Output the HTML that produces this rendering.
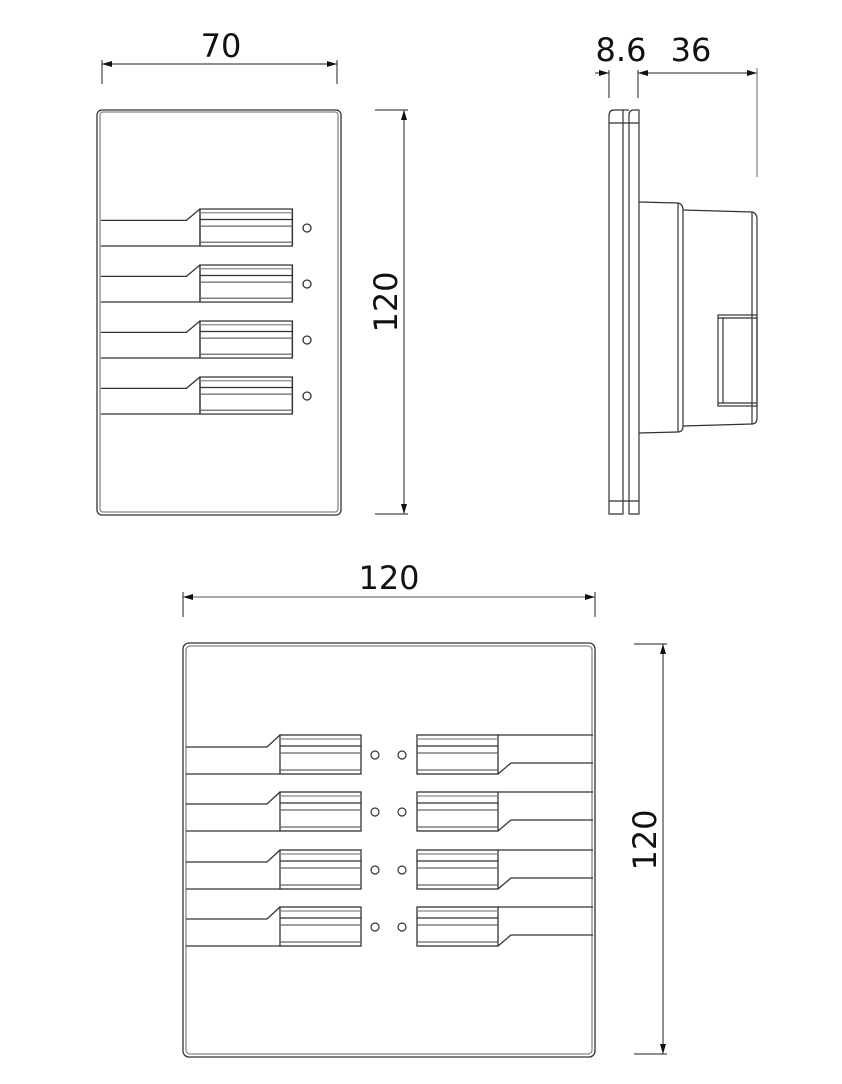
<!DOCTYPE html>
<html><head><meta charset="utf-8"><style>
html,body{margin:0;padding:0;background:#fff;}
svg{display:block;}
text{font-family:"DejaVu Sans","Liberation Sans",sans-serif;font-size:32px;fill:#111;}
</style></head><body>
<svg width="842" height="1084" viewBox="0 0 842 1084" xmlns="http://www.w3.org/2000/svg">
<defs>
<marker id="a" viewBox="0 0 10 6" refX="10" refY="3" markerWidth="10" markerHeight="6" orient="auto-start-reverse" markerUnits="userSpaceOnUse"><path d="M0,0 L10,3 L0,6 z" fill="#111"/></marker>
<g id="btn" fill="none" stroke="#333" stroke-width="1.3">
<rect x="0" y="0" width="81" height="39"/>
<line x1="0" y1="4" x2="81" y2="4" stroke="#888"/>
<line x1="0" y1="11" x2="81" y2="11"/>
<line x1="0" y1="18" x2="81" y2="18" stroke="#666"/>
<line x1="0" y1="35" x2="81" y2="35" stroke="#666"/>
</g>
<g id="rowL" fill="none" stroke="#333" stroke-width="1.3">
<polyline points="-94,12 -13,12 0,0"/>
<line x1="-94" y1="39" x2="0" y2="39"/>
<use href="#btn"/>
</g>
<g id="rowR" fill="none" stroke="#333" stroke-width="1.3">
<line x1="81" y1="0" x2="176" y2="0"/>
<polyline points="81,39 94,28 176,28"/>
<use href="#btn"/>
</g>
</defs>

<g fill="none" stroke="#333" stroke-width="1.3">
<rect x="97" y="110" width="244" height="405" rx="5"/>
<rect x="100" y="112" width="238" height="400" rx="3" stroke="#888"/>
</g>
<g fill="none" stroke="#333" stroke-width="1.3">
<g transform="translate(200,209) scale(1.14,0.95)"><polyline points="-87,12 -12,12 0,0"/><line x1="-87" y1="39" x2="0" y2="39"/><use href="#btn"/></g>
<g transform="translate(200,265) scale(1.14,0.95)"><polyline points="-87,12 -12,12 0,0"/><line x1="-87" y1="39" x2="0" y2="39"/><use href="#btn"/></g>
<g transform="translate(200,321) scale(1.14,0.95)"><polyline points="-87,12 -12,12 0,0"/><line x1="-87" y1="39" x2="0" y2="39"/><use href="#btn"/></g>
<g transform="translate(200,377) scale(1.14,0.95)"><polyline points="-87,12 -12,12 0,0"/><line x1="-87" y1="39" x2="0" y2="39"/><use href="#btn"/></g>
<circle cx="307" cy="228" r="4"/><circle cx="307" cy="284" r="4"/><circle cx="307" cy="340" r="4"/><circle cx="307" cy="396" r="4"/>
</g>
<g stroke="#222" stroke-width="1" fill="none">
<line x1="102" y1="60" x2="102" y2="84"/><line x1="337" y1="60" x2="337" y2="84"/>
<line x1="102" y1="64" x2="337" y2="64" marker-start="url(#a)" marker-end="url(#a)"/>
<line x1="375" y1="110" x2="408" y2="110"/><line x1="375" y1="514" x2="408" y2="514"/>
<line x1="404" y1="110" x2="404" y2="514" marker-start="url(#a)" marker-end="url(#a)"/>
</g>
<text x="221" y="57" text-anchor="middle">70</text>
<text transform="translate(397,302) rotate(-90)" text-anchor="middle">120</text>

<g fill="none" stroke="#333" stroke-width="1.2">
<path d="M609,514 L609,116 Q609,110 614,110 L623,110 L623,514 Z"/>
<path d="M629,514 L629,115 Q629,110 634,110 L639,110 L639,514 Z"/>
<line x1="623" y1="110" x2="629" y2="110"/>
<line x1="609" y1="123" x2="639" y2="123"/>
<line x1="609" y1="501" x2="639" y2="501"/>
<path d="M639,202 L678,203 Q683,204 683,210 L683,426 Q683,432 678,432 L639,433"/>
<line x1="678" y1="203" x2="678" y2="432"/>
<path d="M683,210 L752,212 Q757,213 757,219 L757,418 Q757,424 752,424 L683,426"/>
<line x1="752" y1="212" x2="752" y2="424"/>
<rect x="718" y="315" width="39" height="91"/>
<line x1="723" y1="318" x2="723" y2="403"/>
<line x1="718" y1="318" x2="757" y2="318"/><line x1="718" y1="403" x2="757" y2="403"/>
</g>
<g stroke="#222" stroke-width="1" fill="none">
<line x1="609" y1="70" x2="609" y2="98"/><line x1="638" y1="70" x2="638" y2="98"/>
<line x1="595" y1="73" x2="609" y2="73" marker-end="url(#a)"/>
<line x1="638" y1="73" x2="757" y2="73" marker-start="url(#a)" marker-end="url(#a)"/>
<line x1="757" y1="68" x2="757" y2="177" stroke="#666"/>
</g>
<text x="621" y="61" text-anchor="middle">8.6</text>
<text x="691" y="61" text-anchor="middle">36</text>

<g fill="none" stroke="#333" stroke-width="1.3">
<rect x="183" y="643" width="412" height="414" rx="6"/>
<rect x="186" y="646" width="406" height="408" rx="4" stroke="#888"/>
</g>
<g>
<use href="#rowL" x="280" y="735"/><use href="#rowR" x="417" y="735"/>
<use href="#rowL" x="280" y="792"/><use href="#rowR" x="417" y="792"/>
<use href="#rowL" x="280" y="850"/><use href="#rowR" x="417" y="850"/>
<use href="#rowL" x="280" y="907"/><use href="#rowR" x="417" y="907"/>
</g>
<g fill="none" stroke="#333" stroke-width="1.2">
<circle cx="375" cy="755" r="4"/><circle cx="402" cy="755" r="4"/>
<circle cx="375" cy="812" r="4"/><circle cx="402" cy="812" r="4"/>
<circle cx="375" cy="870" r="4"/><circle cx="402" cy="870" r="4"/>
<circle cx="375" cy="927" r="4"/><circle cx="402" cy="927" r="4"/>
</g>
<g stroke="#222" stroke-width="1" fill="none">
<line x1="183" y1="592" x2="183" y2="617"/><line x1="595" y1="592" x2="595" y2="617"/>
<line x1="183" y1="597" x2="595" y2="597" marker-start="url(#a)" marker-end="url(#a)" stroke="#555"/>
<line x1="634" y1="644" x2="667" y2="644"/><line x1="634" y1="1054" x2="667" y2="1054"/>
<line x1="663" y1="644" x2="663" y2="1054" marker-start="url(#a)" marker-end="url(#a)"/>
</g>
<text x="389" y="589" text-anchor="middle">120</text>
<text transform="translate(656,840) rotate(-90)" text-anchor="middle">120</text>
</svg>
</body></html>
